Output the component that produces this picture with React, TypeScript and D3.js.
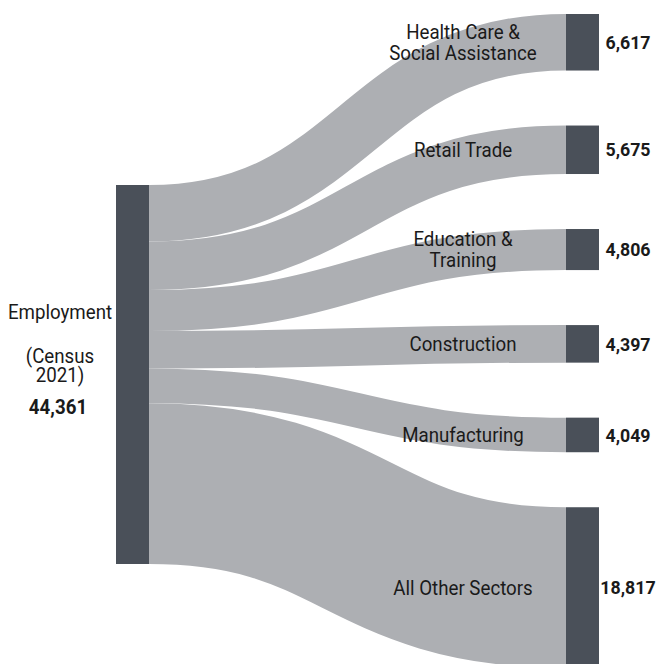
import React, { useEffect, useRef } from 'react';
import * as d3 from 'd3';

const sourceLabel = ['Employment', '(Census', '2021)'];
const sectors = [
  'Health Care & Social Assistance',
  'Retail Trade',
  'Education & Training',
  'Construction',
  'Manufacturing',
  'All Other Sectors',
];
const sectorLines = [
  ['Health Care &', 'Social Assistance'],
  ['Retail Trade'],
  ['Education &', 'Training'],
  ['Construction'],
  ['Manufacturing'],
  ['All Other Sectors'],
];
const employment = [6617, 5675, 4806, 4397, 4049, 18817];

const NODE_COLOR = '#4a5059';
const LINK_COLOR = '#adafb3';
const FONT = 'Roboto, sans-serif';
// no condensed face installed, so squeeze the labels a little
const SQUEEZE = 0.935;

const App = () => {
  const ref = useRef<SVGSVGElement>(null);

  useEffect(() => {
    const svg = d3.select(ref.current);
    svg.selectAll('*').remove();

    const total = d3.sum(employment);
    const nodeWidth = 33;
    const srcX = 116;
    const tgtX = 566;
    const srcTop = 185;
    const tgtTop = 14;
    const pad = 55;

    const h = d3.scaleLinear().domain([0, total]).range([0, 379]);

    // stack the sector nodes on the right, and the link bands on the source node
    let yT = tgtTop;
    let yS = srcTop;
    const nodes = employment.map((v, i) => {
      const n = { name: sectors[i], lines: sectorLines[i], value: v, y0: yT, y1: yT + h(v), s0: yS, s1: yS + h(v) };
      yT += h(v) + pad;
      yS += h(v);
      return n;
    });

    const link = d3.linkHorizontal<any, [number, number]>()
      .source(d => d[0])
      .target(d => d[1]);

    svg.append('g')
      .selectAll('path')
      .data(nodes)
      .enter().append('path')
      .attr('d', d => link([[srcX + nodeWidth, (d.s0 + d.s1) / 2], [tgtX, (d.y0 + d.y1) / 2]] as any))
      .attr('fill', 'none')
      .attr('stroke', LINK_COLOR)
      .attr('stroke-width', d => d.y1 - d.y0);

    svg.append('rect')
      .attr('x', srcX)
      .attr('y', srcTop)
      .attr('width', nodeWidth)
      .attr('height', h(total))
      .attr('fill', NODE_COLOR);

    svg.append('g')
      .selectAll('rect')
      .data(nodes)
      .enter().append('rect')
      .attr('x', tgtX)
      .attr('y', d => d.y0)
      .attr('width', nodeWidth)
      .attr('height', d => d.y1 - d.y0)
      .attr('fill', NODE_COLOR);

    const fmt = d3.format(',');

    const lbl = svg.append('g')
      .attr('font-family', FONT)
      .attr('font-size', 20)
      .attr('fill', '#1a1a1a')
      .attr('text-anchor', 'middle');

    const addText = (x: number, y: number, s: string) =>
      lbl.append('text')
        .attr('transform', `translate(${x},${y}) scale(${SQUEEZE},1)`)
        .attr('dy', '0.35em')
        .text(s);

    nodes.forEach(d => {
      const cy = (d.y0 + d.y1) / 2;
      const n = d.lines.length;
      d.lines.forEach((line, j) => {
        addText(463, cy + (j - (n - 1) / 2) * 21, line);
      });
      addText(628, cy, fmt(d.value))
        .attr('font-size', 19)
        .attr('font-weight', 'bold');
    });

    addText(60, 312, sourceLabel[0]);
    addText(60, 356, sourceLabel[1]);
    addText(60, 375, sourceLabel[2]);
    addText(58, 407, fmt(total))
      .attr('font-size', 20)
      .attr('font-weight', 'bold');
  }, []);

  return (
    <svg
      ref={ref}
      width={660}
      height={664}
      style={{ position: 'absolute', left: 0, top: 0, background: '#fff' }}
    />
  );
};

export default App;
